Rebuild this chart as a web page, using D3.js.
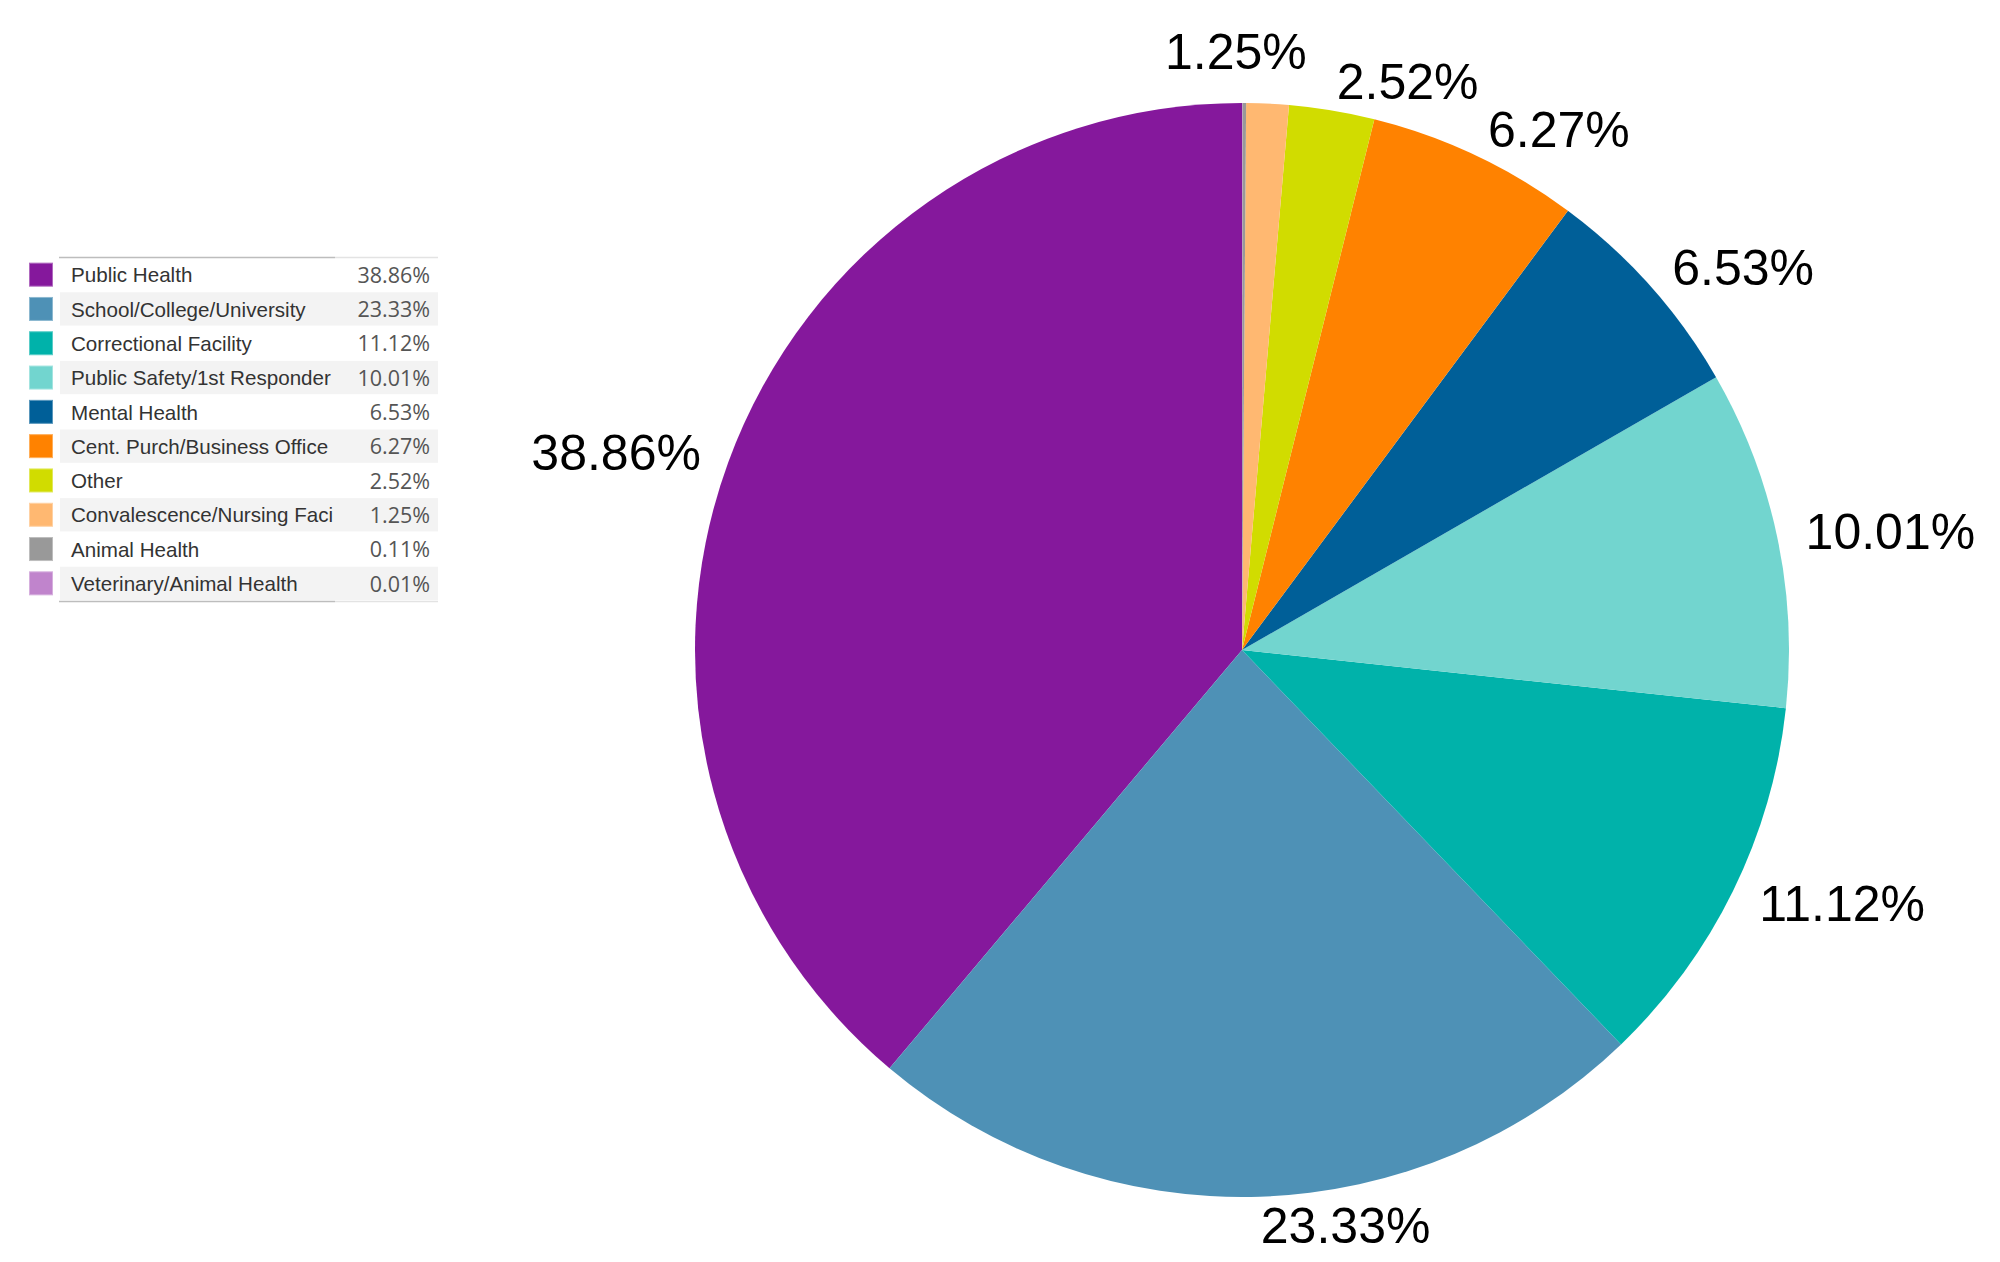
<!DOCTYPE html>
<html>
<head>
<meta charset="utf-8">
<script src="https://cdn.jsdelivr.net/npm/d3@7"></script>
<style>
  html, body { margin: 0; padding: 0; background: #fff; }
  svg { display: block; }
</style>
</head>
<body>
<svg id="chart" width="2000" height="1262"></svg>
<script>
const categories = [
  "Public Health",
  "School/College/University",
  "Correctional Facility",
  "Public Safety/1st Responder",
  "Mental Health",
  "Cent. Purch/Business Office",
  "Other",
  "Convalescence/Nursing Faci",
  "Animal Health",
  "Veterinary/Animal Health"
];
const values = [38.86, 23.33, 11.12, 10.01, 6.53, 6.27, 2.52, 1.25, 0.11, 0.01];
const colors = [
  "#85189c", "#4e91b6", "#00b2aa", "#72d5cf", "#005f98",
  "#ff8200", "#d1dc00", "#ffb871", "#999999", "#c084cc"
];

const data = categories.map((c, i) => ({ name: c, value: values[i], color: colors[i] }));
const fmt = v => v.toFixed(2) + "%";

const svg = d3.select("#chart");
svg.append("rect").attr("width", 2000).attr("height", 1262).attr("fill", "#fff");

// ---------- Pie ----------
const cx = 1242, cy = 650, r = 547, labelR = 576;
const pie = d3.pie().value(d => d.value).sort((a, b) => a.value - b.value);
const arcs = pie(data);
const arc = d3.arc().innerRadius(0).outerRadius(r);

const g = svg.append("g").attr("transform", `translate(${cx},${cy})`);
g.selectAll("path.slice")
  .data(arcs)
  .join("path")
  .attr("class", "slice")
  .attr("d", arc)
  .attr("fill", d => d.data.color);

// labels (sorted clockwise by angle)
const labeled = arcs.filter(d => d.data.value >= 1)
  .sort((a, b) => a.startAngle - b.startAngle);
const lab = g.selectAll("text.lbl")
  .data(labeled)
  .join("text")
  .attr("class", "lbl")
  .attr("font-family", "'Liberation Sans', Arial, sans-serif")
  .attr("font-size", 50)
  .attr("fill", "#000")
  .text(d => fmt(d.data.value));

const pos = labeled.map((d, i) => {
  const a = (d.startAngle + d.endAngle) / 2;
  const s = Math.sin(a);
  const x = labelR * s, y = -labelR * Math.cos(a);
  const w = lab.nodes()[i].getComputedTextLength();
  const left = s >= 0 ? x : x - w;
  return { a, left, w, cyv: y, h: 38 };
});
// simple overlap resolution: push earlier (counter-clockwise) label left/up
for (let i = pos.length - 2; i >= 0; i--) {
  const p = pos[i], q = pos[i + 1];
  const vOver = Math.abs(p.cyv - q.cyv) < (p.h + q.h) / 2;
  const hOver = p.left + p.w > q.left - 10 && p.left < q.left + q.w;
  if (vOver && hOver) {
    p.left = q.left - p.w - 30;
    p.cyv = q.cyv - 30;
  }
}
lab.attr("x", (d, i) => pos[i].left)
   .attr("y", (d, i) => pos[i].cyv)
   .attr("dy", "0.35em");

// ---------- Legend ----------
const lx0 = 59, lx1 = 438, nameClip = 335, ly0 = 258, rowH = 34.3;
const leg = svg.append("g");
leg.selectAll("rect.band")
  .data(data)
  .join("rect")
  .attr("class", "band")
  .attr("x", lx0 + 1)
  .attr("y", (d, i) => ly0 + i * rowH)
  .attr("width", lx1 - lx0 - 1)
  .attr("height", rowH - 1)
  .attr("fill", (d, i) => i % 2 ? "#f3f3f3" : "#fff");

[ly0 - 0.5, ly0 + data.length * rowH + 0.5].forEach(yy => {
  leg.append("line").attr("x1", lx0).attr("x2", nameClip).attr("y1", yy).attr("y2", yy)
    .attr("stroke", "#bdbdbd").attr("stroke-width", 1.5);
  leg.append("line").attr("x1", nameClip).attr("x2", lx1).attr("y1", yy).attr("y2", yy)
    .attr("stroke", "#e3e3e3").attr("stroke-width", 1.5);
});

leg.selectAll("rect.sw")
  .data(data)
  .join("rect")
  .attr("class", "sw")
  .attr("x", 29.5)
  .attr("y", (d, i) => ly0 + i * rowH + (rowH - 24) / 2)
  .attr("width", 23)
  .attr("height", 23)
  .attr("fill", d => d.color)
  .attr("stroke", d => d3.interpolateRgb(d.color, "#fff")(0.35))
  .attr("stroke-width", 1);

leg.selectAll("text.nm")
  .data(data)
  .join("text")
  .attr("class", "nm")
  .attr("x", 71)
  .attr("y", (d, i) => ly0 + i * rowH + rowH / 2)
  .attr("dy", "0.35em")
  .attr("font-family", "'Liberation Sans', Arial, sans-serif")
  .attr("font-size", 20.6)
  .attr("fill", "#333")
  .text(d => d.name);

leg.selectAll("text.pc")
  .data(data)
  .join("text")
  .attr("class", "pc")
  .attr("x", 430)
  .attr("y", (d, i) => ly0 + i * rowH + rowH / 2)
  .attr("dy", "0.36em")
  .attr("text-anchor", "end")
  .attr("font-family", "'Open Sans', 'Noto Sans', sans-serif")
  .attr("font-size", 21.5)
  .attr("fill", "#555")
  .text(d => fmt(d.value));
</script>
</body>
</html>
